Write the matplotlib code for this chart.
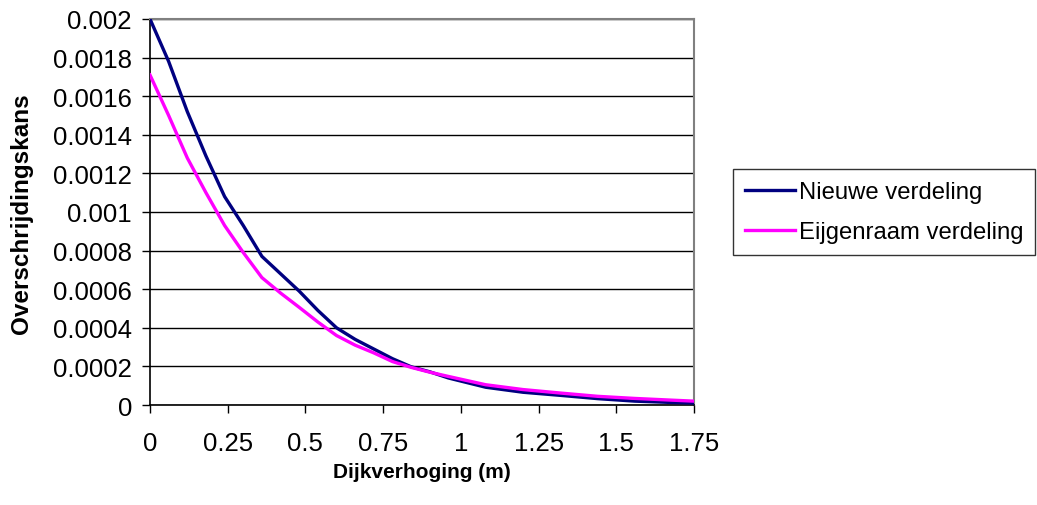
import matplotlib
matplotlib.use("Agg")
import matplotlib.pyplot as plt

# Dike raising (m) and exceedance probability for two distributions
dijkverhoging = [0.00, 0.06, 0.12, 0.18, 0.24, 0.30, 0.36, 0.42, 0.48, 0.54,
                 0.60, 0.66, 0.72, 0.78, 0.84, 0.90, 0.96, 1.08, 1.20, 1.32,
                 1.44, 1.56, 1.68, 1.75]
nieuwe = [0.00200, 0.00178, 0.00152, 0.00129, 0.00108, 0.00093, 0.00077, 0.00068,
          0.00059, 0.00049, 0.00040, 0.00034, 0.00029, 0.00024, 0.000198, 0.000172,
          0.000140, 0.000092, 0.000066, 0.000050, 0.000033, 0.000020, 0.000013,
          0.000010]
eijgenraam = [0.00171, 0.00150, 0.00128, 0.00110, 0.00093, 0.00079, 0.00066, 0.00058,
              0.000506, 0.00043, 0.00036, 0.00031, 0.00027, 0.000225, 0.000195,
              0.000170, 0.000148, 0.000105, 0.000080, 0.000062, 0.000045, 0.000034,
              0.000025, 0.000020]

x_ticks = [0, 0.25, 0.5, 0.75, 1, 1.25, 1.5, 1.75]
x_labels = ["0", "0.25", "0.5", "0.75", "1", "1.25", "1.5", "1.75"]
y_ticks = [0, 0.0002, 0.0004, 0.0006, 0.0008, 0.001, 0.0012, 0.0014, 0.0016, 0.0018, 0.002]
y_labels = ["0", "0.0002", "0.0004", "0.0006", "0.0008", "0.001", "0.0012",
            "0.0014", "0.0016", "0.0018", "0.002"]

plt.rcParams["font.family"] = ["Liberation Sans", "DejaVu Sans"]

W, H = 1037, 506
fig = plt.figure(figsize=(W / 100, H / 100), dpi=100)
ax = fig.add_axes([150 / W, 1 - 406 / H, (694 - 150) / W, (406 - 20) / H])

ax.plot(dijkverhoging, nieuwe, color="#000080", lw=2.4, label="Nieuwe verdeling",
        solid_joinstyle="miter", zorder=3)
ax.plot(dijkverhoging, eijgenraam, color="#FF00FF", lw=2.4, label="Eijgenraam verdeling",
        solid_joinstyle="miter", zorder=3)

ax.set_xlim(0, 1.75)
ax.set_ylim(0, 0.002)
ax.set_xticks(x_ticks)
ax.set_xticklabels(x_labels)
ax.set_yticks(y_ticks)
ax.set_yticklabels(y_labels)
ax.tick_params(axis="both", direction="out", length=6, width=1, colors="black",
               labelsize=18.5)
ax.tick_params(axis="x", pad=13)
ax.tick_params(axis="y", pad=7)

ax.yaxis.grid(True, color="black", lw=1)
ax.set_axisbelow(True)

for side in ("left", "bottom"):
    ax.spines[side].set_color("black")
    ax.spines[side].set_linewidth(1.2)
for side in ("top", "right"):
    ax.spines[side].set_color("#808080")
    ax.spines[side].set_linewidth(1.5)

ax.set_xlabel("Dijkverhoging (m)", fontsize=15, fontweight="bold")
ax.xaxis.set_label_coords(0.5, -(473 - 406) / 386, transform=ax.transAxes)
ax.xaxis.label.set_va("center")
ax.set_ylabel("Overschrijdingskans", fontsize=17.5, fontweight="bold")
ax.yaxis.set_label_coords(-(150 - 33) / 544, 0.497)

leg = fig.legend(loc="upper left", bbox_to_anchor=(733 / W, 1 - 170 / H),
                 fontsize=17.2, frameon=True, fancybox=False, handlelength=2.1,
                 handletextpad=0.15, borderpad=0.5, labelspacing=0.75,
                 borderaxespad=0)
leg.get_frame().set_edgecolor("black")
leg.get_frame().set_linewidth(1)

fig.savefig("out.png", dpi=100)
